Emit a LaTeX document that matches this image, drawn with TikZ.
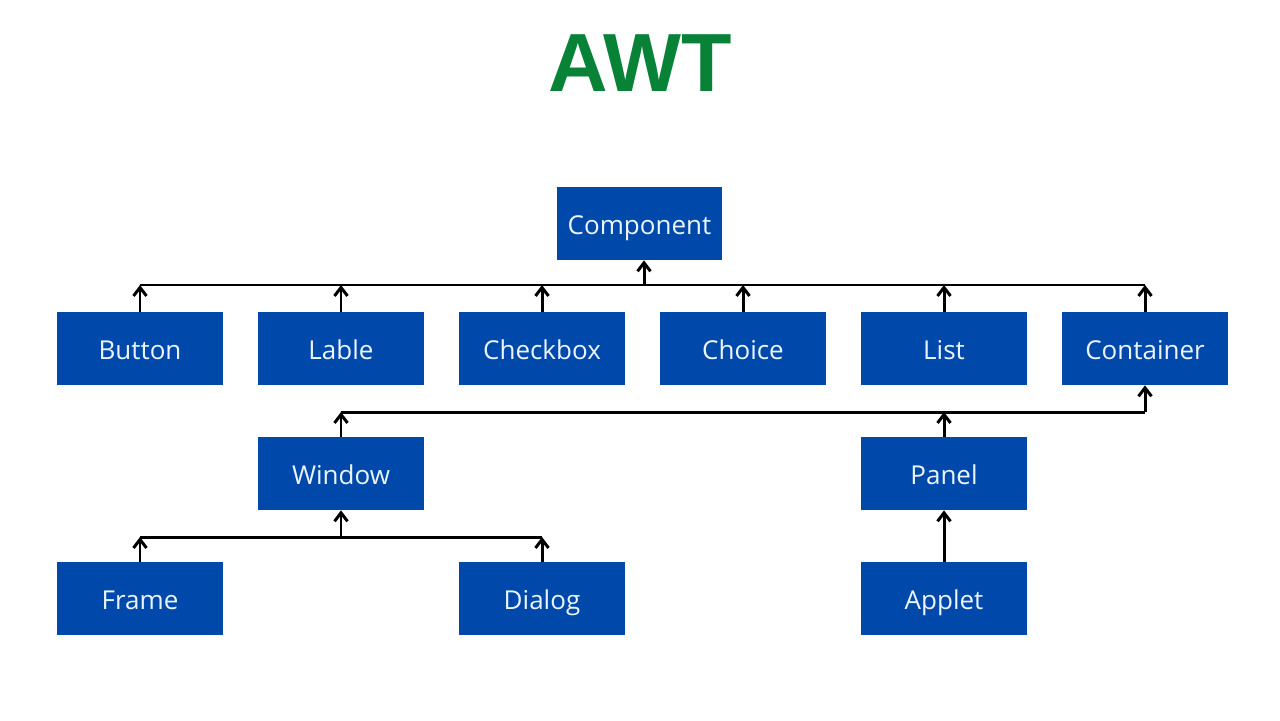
\documentclass[tikz,border=0pt]{standalone}
\usepackage{fontspec}
\setmainfont{Open Sans}
\newfontfamily\titlefont{Liberation Sans}
\usetikzlibrary{arrows.meta}
\definecolor{boxblue}{HTML}{0049AA}
\definecolor{txtcol}{HTML}{EAF5FF}
\definecolor{titlegreen}{HTML}{078236}
\begin{document}
\begin{tikzpicture}[x=0.02cm,y=-0.02cm,
  cls/.style={fill=boxblue,draw=none,minimum width=3.32cm,minimum height=1.46cm,inner sep=0pt,
    text=txtcol,font=\fontsize{14.8}{17}\selectfont,text height=14.6pt,text depth=1.8pt},
  link/.style={line width=1.7pt,draw=black},
  up/.style={link,-{Straight Barb[length=0.17cm,width=0.26cm,line width=1.7pt]}}]
\useasboundingbox[fill=white] (0,0) rectangle (1280,720);
\node[text=titlegreen,font=\titlefont\bfseries\fontsize{47}{50}\selectfont,inner sep=0pt] (title) at (640,63) {AWT};
\node[cls] (comp) at (639.5,223.5) {Component};
\node[cls] (button) at (140,348.5) {Button};
\node[cls] (lable) at (341,348.5) {Lable};
\node[cls] (check) at (542,348.5) {Checkbox};
\node[cls] (choice) at (743,348.5) {Choice};
\node[cls] (list) at (944,348.5) {List};
\node[cls] (cont) at (1145,348.5) {Container};
\node[cls] (window) at (341,473.5) {Window};
\node[cls] (panel) at (944,473.5) {Panel};
\node[cls] (frame) at (140,598.5) {Frame};
\node[cls] (dialog) at (542,598.5) {Dialog};
\node[cls] (applet) at (944,598.5) {Applet};
\coordinate (busA) at (0,285);
\coordinate (busB) at (0,412);
\coordinate (busC) at (0,537);
% bus 1
\draw[link] (button.north |- busA) -- (cont.north |- busA);
\draw[up] ([xshift=0.09cm]comp.south |- busA) -- ([xshift=0.09cm]comp.south);
\foreach \n in {button,lable,check,choice,list,cont}
  \draw[up] (\n.north) -- (\n.north |- busA);
% bus 2
\draw[link] (window.north |- busB) -- (cont.south |- busB);
\draw[up] (cont.south |- busB) -- (cont.south);
\draw[up] (window.north) -- (window.north |- busB);
\draw[up] (panel.north) -- (panel.north |- busB);
% bus 3
\draw[link] (frame.north |- busC) -- (dialog.north |- busC);
\draw[up] (window.south |- busC) -- (window.south);
\draw[up] (frame.north) -- (frame.north |- busC);
\draw[up] (dialog.north) -- (dialog.north |- busC);
% applet
\draw[up] (applet.north) -- (panel.south);
\end{tikzpicture}
\end{document}
